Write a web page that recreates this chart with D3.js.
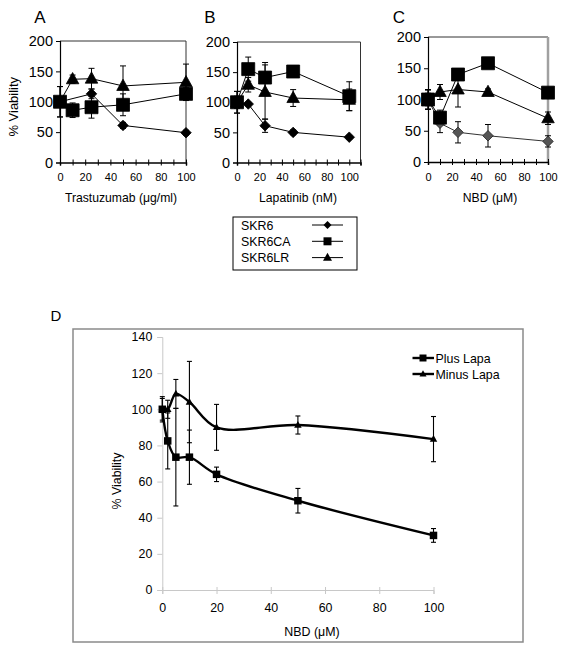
<!DOCTYPE html>
<html><head><meta charset="utf-8">
<script src="https://cdn.jsdelivr.net/npm/d3@7"></script>
<style>
html,body{margin:0;padding:0;background:#fff;}
svg{display:block;font-family:"Liberation Sans",Arial,sans-serif;}
</style></head>
<body>
<svg id="chart" width="561" height="653"></svg>
<script>
// ---------- DATA ----------
const doses = [0, 10, 25, 50, 100];
const seriesNames = ["SKR6", "SKR6CA", "SKR6LR"];
const yTicksABC = [0, 50, 100, 150, 200];
const xTickLabelsABC = [0, 20, 40, 60, 80, 100];

// Panel A – Trastuzumab
const a_SKR6      = [100, null, 113, 61, 49];
const a_SKR6_err  = [8, null, 8, 5, 4];
const a_SKR6CA    = [100, 86, 91, 95, 113];
const a_SKR6CA_err= [25, 12, 18, 18, 10];
const a_SKR6LR    = [100, 137, 138, 126, 132];
const a_SKR6LR_err= [25, 7, 17, 33, 30];

// Panel B – Lapatinib
const b_SKR6      = [100, 97, 61, 50, 42];
const b_SKR6_err  = [18, 3, 11, 4, 3];
const b_SKR6CA    = [100, 155, 141, 151, 110];
const b_SKR6CA_err= [18, 20, 25, 5, 24];
const b_SKR6LR    = [100, 129, 117, 107, 104];
const b_SKR6LR_err= [10, 12, 45, 14, 18];

// Panel C – NBD
const c_SKR6      = [100, 62, 47.5, 42, 33];
const c_SKR6_err  = [15, 15, 17, 18, 9];
const c_SKR6CA    = [100, 71, 140, 158, 111];
const c_SKR6CA_err= [16, 12, 5, 5, 5];
const c_SKR6LR    = [100, 112, 116, 112, 70];
const c_SKR6LR_err= [10, 12, 28, 5, 10];

// Panel D – NBD plus/minus Lapatinib
const dosesD = [0, 2, 5, 10, 20, 50, 100];
const d_plus      = [100, 82.5, 73.5, 73.5, 64, 49.4, 30.2];
const d_plus_err  = [7, 15.5, 27, 15, 4, 6.8, 3.8];
const d_minus     = [100, 100, 108.5, 104, 90, 91.3, 83.5];
const d_minus_err = [6, 5, 8, 22.5, 12.7, 5, 12.5];
const yTicksD = [0, 20, 40, 60, 80, 100, 120, 140];
const xTicksD = [0, 20, 40, 60, 80, 100];
const dLegend = ["Plus Lapa", "Minus Lapa"];

// ---------- HELPERS ----------
const svg = d3.select("#chart");
function shapePath(type, s) {
  const h = s / 2;
  if (type === "square") return `M${-h},${-h}H${h}V${h}H${-h}Z`;
  if (type === "diamond") return `M0,${-h}L${h},0L0,${h}L${-h},0Z`;
  const th = s * 0.9;
  return `M0,${-th*0.6}L${h},${th*0.4}L${-h},${th*0.4}Z`;
}
const shapes = ["diamond", "square", "triangle"];

function zip(xs, ys, es) {
  return xs.map((x, i) => ({x, y: ys[i], e: es[i]})).filter(d => d.y != null);
}

function panel(cfg) {
  const g = svg.append("g");
  const x = d3.scaleLinear().domain(cfg.xDomain).range([cfg.left, cfg.right]);
  const y = d3.scaleLinear().domain([0, 200]).range([cfg.bottom, cfg.top]);
  g.append("line").attr("x1", cfg.left).attr("x2", cfg.right).attr("y1", cfg.top).attr("y2", cfg.top)
    .attr("stroke", "#333").attr("stroke-width", 1);
  g.append("line").attr("x1", cfg.right).attr("x2", cfg.right).attr("y1", cfg.top).attr("y2", cfg.bottom)
    .attr("stroke", cfg.rightColor || "#333").attr("stroke-width", cfg.rightWidth || 1);
  const ya = d3.axisLeft(y).tickValues(yTicksABC).tickSize(4).tickPadding(3);
  const yg = g.append("g").attr("transform", `translate(${cfg.left},0)`).call(ya);
  yg.selectAll("text").attr("font-size", 14.5).attr("fill", "#000").attr("font-family", "Liberation Sans, Arial, sans-serif");
  yg.select(".domain").attr("stroke", "#000").attr("stroke-width", 1.2);
  yg.selectAll(".tick line").attr("stroke", "#000");
  const xtv = d3.range(cfg.xDomain[0], cfg.xDomain[1] + 0.1, 10);
  const xa = d3.axisBottom(x).tickValues(xtv).tickSize(3).tickPadding(8)
    .tickFormat(d => xTickLabelsABC.includes(d) ? d : "");
  const xg = g.append("g").attr("transform", `translate(0,${cfg.bottom})`).call(xa);
  xg.selectAll("text").attr("font-size", 11).attr("fill", "#000").attr("font-family", "Liberation Sans, Arial, sans-serif");
  xg.select(".domain").attr("stroke", "#000").attr("stroke-width", 1.5);
  xg.selectAll(".tick line").attr("stroke", "#000").attr("y1", -3);
  g.append("text").attr("x", cfg.titleX).attr("y", 202).attr("text-anchor", "middle")
    .attr("font-size", 12.2).text(cfg.title);
  g.append("text").attr("x", cfg.letterX).attr("y", 23).attr("text-anchor", "middle")
    .attr("font-size", 17).text(cfg.letter);
  g.append("text").attr("transform", `translate(${cfg.left - 42},${(cfg.top + cfg.bottom) / 2 + 5}) rotate(-90)`)
    .attr("text-anchor", "middle").attr("font-size", 13).text(cfg.ylabel || "");
  const line = d3.line().x(d => x(d.x)).y(d => y(d.y));
  cfg.series.forEach((s, i) => {
    const pts = zip(doses, s.v, s.e);
    g.append("path").attr("d", line(pts)).attr("fill", "none").attr("stroke", s.line || "#000").attr("stroke-width", 1);
    pts.forEach(d => {
      if (!d.e) return;
      const cx = x(d.x), y1 = y(d.y + d.e), y2 = y(d.y - d.e);
      g.append("line").attr("x1", cx).attr("x2", cx).attr("y1", y1).attr("y2", y2).attr("stroke", "#000");
      [y1, y2].forEach(yy => g.append("line").attr("x1", cx - 3).attr("x2", cx + 3).attr("y1", yy).attr("y2", yy).attr("stroke", "#000"));
    });
  });
  cfg.series.forEach((s, i) => {
    const pts = zip(doses, s.v, s.e);
    const size = i === 0 ? 10.5 : (i === 1 ? 13 : 12.5);
    g.selectAll(null).data(pts).enter().append("path")
      .attr("d", shapePath(shapes[i], size))
      .attr("transform", d => `translate(${x(d.x)},${y(d.y)})`)
      .attr("fill", s.fill || "#000").attr("stroke", s.stroke || "#000").attr("stroke-width", 0.8);
  });
}

panel({left: 60, right: 186, top: 41, bottom: 162.5, xDomain: [0, 100], title: "Trastuzumab (μg/ml)", titleX: 121,
  letter: "A", letterX: 40, ylabel: "% Viability",
  series: [{v: a_SKR6, e: a_SKR6_err}, {v: a_SKR6CA, e: a_SKR6CA_err}, {v: a_SKR6LR, e: a_SKR6LR_err}]});
panel({left: 237, right: 360.5, top: 42, bottom: 162.5, xDomain: [0, 110], title: "Lapatinib (nM)", titleX: 298,
  letter: "B", letterX: 210,
  series: [{v: b_SKR6, e: b_SKR6_err}, {v: b_SKR6CA, e: b_SKR6CA_err}, {v: b_SKR6LR, e: b_SKR6LR_err}]});
panel({left: 428, right: 548, top: 37, bottom: 162, xDomain: [0, 100], title: "NBD (μM)", titleX: 490,
  letter: "C", letterX: 399, rightColor: "#a0a0a0", rightWidth: 2.5,
  series: [{v: c_SKR6, e: c_SKR6_err, fill: "#555", stroke: "#222", line: "#333"}, {v: c_SKR6CA, e: c_SKR6CA_err}, {v: c_SKR6LR, e: c_SKR6LR_err}]});

// legend for A-C
const lg = svg.append("g");
lg.append("rect").attr("x", 233).attr("y", 217).attr("width", 124).attr("height", 53)
  .attr("fill", "#fff").attr("stroke", "#000").attr("stroke-width", 1);
seriesNames.forEach((n, i) => {
  const cy = 225 + i * 16.3;
  lg.append("text").attr("x", 241).attr("y", cy + 4.5).attr("font-size", 12.4).text(n);
  lg.append("line").attr("x1", 312).attr("x2", 343).attr("y1", cy).attr("y2", cy).attr("stroke", "#000");
  lg.append("path").attr("d", shapePath(shapes[i], i === 2 ? 9 : 8)).attr("transform", `translate(327.5,${cy})`).attr("fill", "#000");
});

// ---------- PANEL D ----------
const D = {left: 162.3, right: 433.5, top: 337, bottom: 590};
const xd = d3.scaleLinear().domain([0, 100]).range([D.left, D.right]);
const yd = d3.scaleLinear().domain([0, 140]).range([D.bottom, D.top]);
const gd = svg.append("g");
gd.append("rect").attr("x", 73).attr("y", 329).attr("width", 450).attr("height", 313)
  .attr("fill", "none").attr("stroke", "#8a8a8a").attr("stroke-width", 1.5);
gd.append("text").attr("x", 56).attr("y", 321).attr("text-anchor", "middle").attr("font-size", 15).text("D");
const yad = d3.axisLeft(yd).tickValues(yTicksD).tickSize(5).tickPadding(5);
const ydg = gd.append("g").attr("transform", `translate(${D.left},0)`).call(yad);
ydg.selectAll("text").attr("font-size", 12.4).attr("fill", "#000").attr("font-family", "Liberation Sans, Arial, sans-serif");
ydg.select(".domain").attr("stroke", "#c8c8c8");
ydg.selectAll(".tick line").attr("stroke", "#c8c8c8");
const xad = d3.axisBottom(xd).tickValues(xTicksD).tickSize(4).tickPadding(9);
const xdg = gd.append("g").attr("transform", `translate(0,${D.bottom})`).call(xad);
xdg.selectAll("text").attr("font-size", 12.4).attr("fill", "#000").attr("font-family", "Liberation Sans, Arial, sans-serif");
xdg.select(".domain").attr("stroke", "#c8c8c8");
xdg.selectAll(".tick line").attr("stroke", "#c8c8c8").attr("y1", -3);
gd.append("text").attr("x", 312).attr("y", 636).attr("text-anchor", "middle").attr("font-size", 12.4).text("NBD (μM)");
gd.append("text").attr("transform", `translate(121,481) rotate(-90)`).attr("text-anchor", "middle")
  .attr("font-size", 12.4).text("% Viability");

const curve = d3.line().x(d => xd(d.x)).y(d => yd(d.y)).curve(d3.curveCatmullRom.alpha(0.5));
const dSeries = [{v: d_plus, e: d_plus_err, shape: "square"}, {v: d_minus, e: d_minus_err, shape: "triangle"}];
dSeries.forEach(s => {
  const pts = zip(dosesD, s.v, s.e);
  gd.append("path").attr("d", curve(pts)).attr("fill", "none").attr("stroke", "#000").attr("stroke-width", 2.4);
});
dSeries.forEach(s => {
  const pts = zip(dosesD, s.v, s.e);
  pts.forEach(d => {
    const cx = xd(d.x), y1 = yd(d.y + d.e), y2 = yd(d.y - d.e);
    gd.append("line").attr("x1", cx).attr("x2", cx).attr("y1", y1).attr("y2", y2).attr("stroke", "#000").attr("stroke-width", 1.1);
    [y1, y2].forEach(yy => gd.append("line").attr("x1", cx - 2.5).attr("x2", cx + 2.5).attr("y1", yy).attr("y2", yy).attr("stroke", "#000").attr("stroke-width", 1.1));
  });
  gd.selectAll(null).data(pts).enter().append("path")
    .attr("d", shapePath(s.shape, s.shape === "square" ? 7.5 : 7.5))
    .attr("transform", d => `translate(${xd(d.x)},${yd(d.y)})`).attr("fill", "#000");
});
dLegend.forEach((n, i) => {
  const cy = 358 + i * 16;
  gd.append("line").attr("x1", 412.5).attr("x2", 434).attr("y1", cy).attr("y2", cy).attr("stroke", "#000").attr("stroke-width", 2.4);
  gd.append("path").attr("d", shapePath(dSeries[i].shape, 7)).attr("transform", `translate(423,${cy})`).attr("fill", "#000");
  gd.append("text").attr("x", 435.5).attr("y", cy + 4.5).attr("font-size", 12.4).text(n);
});
</script>
</body></html>
